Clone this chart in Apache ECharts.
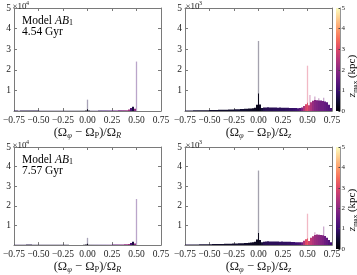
<!DOCTYPE html>
<html><head><meta charset="utf-8">
<script src="https://cdn.jsdelivr.net/npm/echarts@6/dist/echarts.min.js"></script>
<style>html,body{margin:0;padding:0;background:#fff}#c{width:357px;height:275px}</style>
</head><body><div id="c"></div>
<script>
const binWidth = 0.02;
const binCenters = [-0.74,-0.72,-0.70,-0.68,-0.66,-0.64,-0.62,-0.60,-0.58,-0.56,-0.54,-0.52,-0.50,-0.48,-0.46,-0.44,-0.42,-0.40,-0.38,-0.36,-0.34,-0.32,-0.30,-0.28,-0.26,-0.24,-0.22,-0.20,-0.18,-0.16,-0.14,-0.12,-0.10,-0.08,-0.06,-0.04,-0.02,0.00,0.02,0.04,0.06,0.08,0.10,0.12,0.14,0.16,0.18,0.20,0.22,0.24,0.26,0.28,0.30,0.32,0.34,0.36,0.38,0.40,0.42,0.44,0.46,0.48,0.50,0.52,0.54,0.56,0.58,0.60,0.62,0.64,0.66,0.68,0.70,0.72,0.74];

// Top-left: 4.54 Gyr, (Ωφ−ΩP)/ΩR
const countsTL = [200,190,180,200,220,240,260,270,260,240,220,200,190,180,170,160,150,150,150,140,140,140,130,130,120,
  120,120,115,115,115,110,110,110,110,120,150,280,
  800,
  220,150,160,170,180,190,190,200,210,220,230,250,260,280,300,320,340,360,380,400,
  700,1500,2100,1100,0,0,0,0,0,0,0,0,0,0,0,0,0];
const zmaxTL = [0.7,0.7,0.7,0.65,0.65,0.65,0.6,0.6,0.6,0.6,0.6,0.6,0.6,0.6,0.6,0.6,0.6,0.6,0.6,0.6,0.6,0.6,0.6,0.6,0.6,
  0.55,0.55,0.55,0.5,0.5,0.5,0.5,0.45,0.45,0.4,0.35,0.3,
  0.2,
  0.4,0.6,0.7,0.8,0.8,0.9,0.9,1.0,1.0,1.1,1.2,1.3,1.4,1.5,1.6,1.7,1.8,1.9,2.0,2.1,
  2.2,1.2,0.6,2.0,0,0,0,0,0,0,0,0,0,0,0,0,0];
const spikeXTL = [0.0, 0.5];
const spikeYTL = [5500, 24000];
const spikeZTL = [0.6, 1.2];

// Top-right: 4.54 Gyr, (Ωφ−ΩP)/Ωz
const countsTR = [25,28,30,30,32,33,35,36,38,40,40,42,45,46,48,50,52,55,57,60,62,65,68,72,75,
  80,85,90,95,100,105,110,118,125,135,160,300,
  850,
  320,140,165,175,180,170,165,170,165,160,165,160,155,160,155,150,150,145,140,135,
  140,170,240,330,400,280,430,500,530,520,510,510,490,460,420,300,150];
const zmaxTR = [0.6,0.55,0.55,0.5,0.5,0.5,0.45,0.45,0.45,0.45,0.4,0.4,0.4,0.4,0.4,0.4,0.4,0.4,0.4,0.4,0.4,0.4,0.4,0.4,0.4,
  0.5,0.5,0.5,0.45,0.45,0.45,0.4,0.4,0.35,0.3,0.3,0.25,
  0.2,
  0.3,0.5,0.7,0.75,0.75,0.75,0.75,0.8,0.8,0.8,0.8,0.8,0.8,0.85,0.85,0.9,0.9,0.95,1.0,1.1,
  1.3,1.8,2.4,2.9,3.1,2.7,2.4,2.1,1.9,1.8,1.7,1.6,1.6,1.5,1.4,1.3,1.2];
const spikeXTR = [0.0, 0.5, 0.525, 0.575, 0.615, 0.665];
const spikeYTR = [3400, 2200, 780, 700, 620, 640];
const spikeZTR = [0.4, 3.0, 2.4, 2.0, 1.8, 1.6];

// Bottom-left: 7.57 Gyr, (Ωφ−ΩP)/ΩR
const countsBL = [190,180,170,190,210,230,250,260,250,230,210,190,180,170,160,150,145,140,140,135,130,130,125,125,120,
  120,115,115,110,110,105,105,100,100,110,140,260,
  700,
  200,140,150,160,170,180,180,190,200,210,220,240,250,270,290,310,330,350,370,390,
  550,1100,1700,850,0,0,0,0,0,0,0,0,0,0,0,0,0];
const zmaxBL = [0.7,0.7,0.7,0.65,0.65,0.65,0.6,0.6,0.6,0.6,0.6,0.6,0.6,0.6,0.6,0.6,0.6,0.6,0.6,0.6,0.6,0.6,0.6,0.6,0.6,
  0.55,0.55,0.55,0.5,0.5,0.5,0.5,0.45,0.45,0.4,0.35,0.3,
  0.2,
  0.4,0.6,0.7,0.8,0.8,0.9,0.9,1.0,1.0,1.1,1.2,1.3,1.4,1.5,1.6,1.7,1.8,1.9,2.0,2.1,
  2.2,1.2,0.6,2.0,0,0,0,0,0,0,0,0,0,0,0,0,0];
const spikeXBL = [0.0, 0.5];
const spikeYBL = [3700, 23500];
const spikeZBL = [0.6, 1.2];

// Bottom-right: 7.57 Gyr, (Ωφ−ΩP)/Ωz
const countsBR = [28,30,32,32,34,35,36,38,40,42,42,44,46,48,50,52,54,56,58,60,63,66,70,74,78,
  82,86,92,96,100,106,112,120,128,140,170,280,
  620,
  260,140,170,185,190,185,180,185,180,178,175,178,172,170,168,165,160,155,150,145,
  140,150,220,300,340,210,380,450,520,540,530,520,500,460,370,260,150];
const zmaxBR = [0.6,0.6,0.55,0.55,0.5,0.5,0.5,0.5,0.5,0.45,0.45,0.45,0.45,0.45,0.45,0.4,0.4,0.4,0.4,0.4,0.4,0.4,0.4,0.4,0.4,
  0.45,0.45,0.45,0.4,0.4,0.4,0.4,0.35,0.35,0.3,0.3,0.25,
  0.2,
  0.3,0.5,0.7,0.75,0.75,0.8,0.8,0.8,0.8,0.8,0.85,0.85,0.85,0.85,0.9,0.9,0.95,1.0,1.0,1.1,
  1.2,1.6,2.4,3.0,3.2,2.8,2.6,2.4,2.2,2.1,2.0,1.9,1.8,1.6,1.5,1.3,1.1];
const spikeXBR = [0.0, 0.5, 0.575, 0.665];
const spikeYBR = [3800, 1600, 650, 950];
const spikeZBR = [0.4, 3.0, 2.2, 1.8];

const xTicks = [-0.75,-0.50,-0.25,0.00,0.25,0.50,0.75];
const yTicksL = [10000,20000,30000,40000,50000];
const yTicksR = [1000,2000,3000,4000,5000];
const cbTicks = [0,1,2,3,4,5];
const timeLabels = ['4.54 Gyr','7.57 Gyr'];

const magma = ['#000004','#140e36','#3b0f70','#641a80','#8c2981','#b73779','#de4968','#f7705c','#fe9f6d','#fecf92','#fcfdbf'];
const FONT = 'Liberation Serif';
const TXT = '#222';
const LINE = '#7a7a7a';

const chart = echarts.init(document.getElementById('c'), null, {renderer:'canvas'});

function zip3(xs, ys, zs){ return xs.map((x,i)=>[x, ys[i], zs[i]]); }

function barItem(params, api){
  const x = api.value(0), y = api.value(1);
  if (!y) return null;
  const p0 = api.coord([x - binWidth/2, y]);
  const p1 = api.coord([x + binWidth/2, 0]);
  const x0 = Math.round(p0[0]), x1 = Math.round(p1[0]);
  return {type:'rect', shape:{x:x0, y:p0[1], width:x1-x0, height:p1[1]-p0[1]},
    style:{fill:api.visual('color')}};
}
function spikeItem(params, api){
  const x = api.value(0), y = api.value(1);
  const a = api.coord([x, 0]), b = api.coord([x, y]);
  return {type:'line', shape:{x1:a[0], y1:a[1], x2:b[0], y2:b[1]},
    style:{stroke: echarts.color.lift(api.visual('color'), 0.62), lineWidth:1.3}};
}

const grids = [
  {left:12, top:8, width:149, height:103},
  {left:185, top:8, width:147, height:103},
  {left:12, top:147, width:149, height:102},
  {left:185, top:147, width:147, height:102},
  {left:336, top:8, width:4, height:103},
  {left:336, top:147, width:4, height:102}
];

const titleRich = {
  a:{fontFamily:FONT, fontSize:12.5, color:TXT, lineHeight:15},
  i:{fontFamily:FONT, fontSize:12.5, color:TXT, lineHeight:15, fontStyle:'italic'},
  s:{fontFamily:FONT, fontSize:8.5, color:TXT, lineHeight:7, verticalAlign:'bottom'},
  si:{fontFamily:FONT, fontSize:8.5, color:TXT, lineHeight:7, verticalAlign:'bottom', fontStyle:'italic'}
};
const nameR = '{a|(Ω}{si|φ}{a| − Ω}{s|P}{a|)/Ω}{si|R}';
const nameZ = '{a|(Ω}{si|φ}{a| − Ω}{s|P}{a|)/Ω}{si|z}';

const AL = {show:true, onZero:false, lineStyle:{color:LINE, width:1}};
const AT = {show:true, inside:true, length:3, lineStyle:{color:LINE}};

const xAxes = [], yAxes = [];
for (let g = 0; g < 4; g++) {
  const isR = (g % 2 === 1);
  xAxes.push({
    type:'value', gridIndex:g, min:xTicks[0], max:xTicks[xTicks.length-1], interval:0.25,
    position:'bottom', axisLine:AL, axisTick:AT, splitLine:{show:false},
    axisLabel:{fontFamily:FONT, fontSize:9.5, color:TXT, margin:4, showMinLabel:true, showMaxLabel:true,
      formatter:v => (v < 0 ? '−' : '') + Math.abs(v).toFixed(2)},
    name: isR ? nameZ : nameR, nameLocation:'middle', nameGap:11,
    nameTextStyle:{rich:titleRich}
  });
  xAxes.push({
    type:'value', gridIndex:g, min:xTicks[0], max:xTicks[xTicks.length-1], interval:0.25,
    position:'top', axisLine:AL, axisTick:AT, splitLine:{show:false}, axisLabel:{show:false}
  });
  const ticks = isR ? yTicksR : yTicksL;
  const step = ticks[0];
  yAxes.push({
    type:'value', gridIndex:g, min:0, max:ticks[ticks.length-1], interval:step, position:'left',
    axisLine:AL, axisTick:AT, splitLine:{show:false},
    axisLabel:{fontFamily:FONT, fontSize:9.5, color:TXT, margin:3,
      formatter:v => v === 0 ? '' : String(Math.round(v/step))}
  });
  yAxes.push({
    type:'value', gridIndex:g, min:0, max:ticks[ticks.length-1], interval:step, position:'right',
    axisLine:AL, axisTick:AT, splitLine:{show:false}, axisLabel:{show:false}
  });
}
for (let g = 4; g < 6; g++) {
  xAxes.push({type:'value', gridIndex:g, min:0, max:1, show:false});
  yAxes.push({
    type:'value', gridIndex:g, min:cbTicks[0], max:cbTicks[cbTicks.length-1], interval:1, position:'right',
    axisLine:{show:true, onZero:false, lineStyle:{color:LINE, width:0.8}},
    axisTick:{show:true, inside:true, length:1.5, lineStyle:{color:'#444'}},
    splitLine:{show:false},
    axisLabel:{fontFamily:FONT, fontSize:7, color:TXT, margin:1.5}
  });
}

const panels = [
  [countsTL, zmaxTL, spikeXTL, spikeYTL, spikeZTL],
  [countsTR, zmaxTR, spikeXTR, spikeYTR, spikeZTR],
  [countsBL, zmaxBL, spikeXBL, spikeYBL, spikeZBL],
  [countsBR, zmaxBR, spikeXBR, spikeYBR, spikeZBR]
];
const series = [];
panels.forEach((p, g) => {
  series.push({type:'custom', xAxisIndex:2*g, yAxisIndex:2*g, renderItem:barItem, clip:true, z:3,
    data: zip3(binCenters, p[0], p[1]), encode:{x:0, y:1}, silent:true});
  series.push({type:'custom', xAxisIndex:2*g, yAxisIndex:2*g, renderItem:spikeItem, clip:true, z:1,
    data: zip3(p[2], p[3], p[4]), encode:{x:0, y:1}, silent:true});
});

function cbRect(top, h){
  const stops = magma.map((c,i)=>({offset:i/(magma.length-1), color:c}));
  return {type:'rect', left:336, top:top, shape:{width:4, height:h},
    style:{fill:new echarts.graphic.LinearGradient(0,1,0,0,stops)}, z:0};
}
function modelText(top, t){
  return {type:'text', left:22, top:top, z:10, style:{
    text:'{a|Model }{i|AB}{s|1}\n{a|' + t + '}',
    rich:{
      a:{fontFamily:FONT, fontSize:11.5, color:TXT, lineHeight:11},
      i:{fontFamily:FONT, fontSize:11.5, color:TXT, lineHeight:11, fontStyle:'italic'},
      s:{fontFamily:FONT, fontSize:8, color:TXT, lineHeight:5, verticalAlign:'bottom'}
    }}};
}
function expText(left, top, e){
  return [
    {type:'text', left:left, top:top, z:10, style:{text:'×10', fontFamily:FONT, fontSize:9, fill:TXT}},
    {type:'text', left:left+13.5, top:top-2, z:10, style:{text:e, fontFamily:FONT, fontSize:6, fill:TXT}}
  ];
}
function cbLabel(cy){
  return {type:'text', x:352.5, y:cy, rotation:Math.PI/2, z:10, style:{
    text:'{i|z}{s|max}{a| (kpc)}', align:'center', verticalAlign:'middle',
    rich:{
      a:{fontFamily:FONT, fontSize:11, color:TXT, lineHeight:12},
      i:{fontFamily:FONT, fontSize:11, color:TXT, lineHeight:12, fontStyle:'italic'},
      s:{fontFamily:FONT, fontSize:7, color:TXT, lineHeight:6, verticalAlign:'bottom'}
    }}};
}

chart.setOption({
  animation:false,
  backgroundColor:'#fff',
  grid: grids,
  xAxis: xAxes,
  yAxis: yAxes,
  visualMap:{show:false, type:'continuous', min:cbTicks[0], max:cbTicks[cbTicks.length-1], dimension:2,
    seriesIndex:[0,1,2,3,4,5,6,7], inRange:{color:magma}},
  series: series,
  graphic: [
    cbRect(8, 103), cbRect(147, 102),
    modelText(15, timeLabels[0]), modelText(154, timeLabels[1]),
    ...expText(12.5, 2, '4'), ...expText(185.5, 2, '3'),
    ...expText(12.5, 141, '4'), ...expText(185.5, 141, '3'),
    cbLabel(76), cbLabel(210)
  ]
});
</script>
</body></html>
